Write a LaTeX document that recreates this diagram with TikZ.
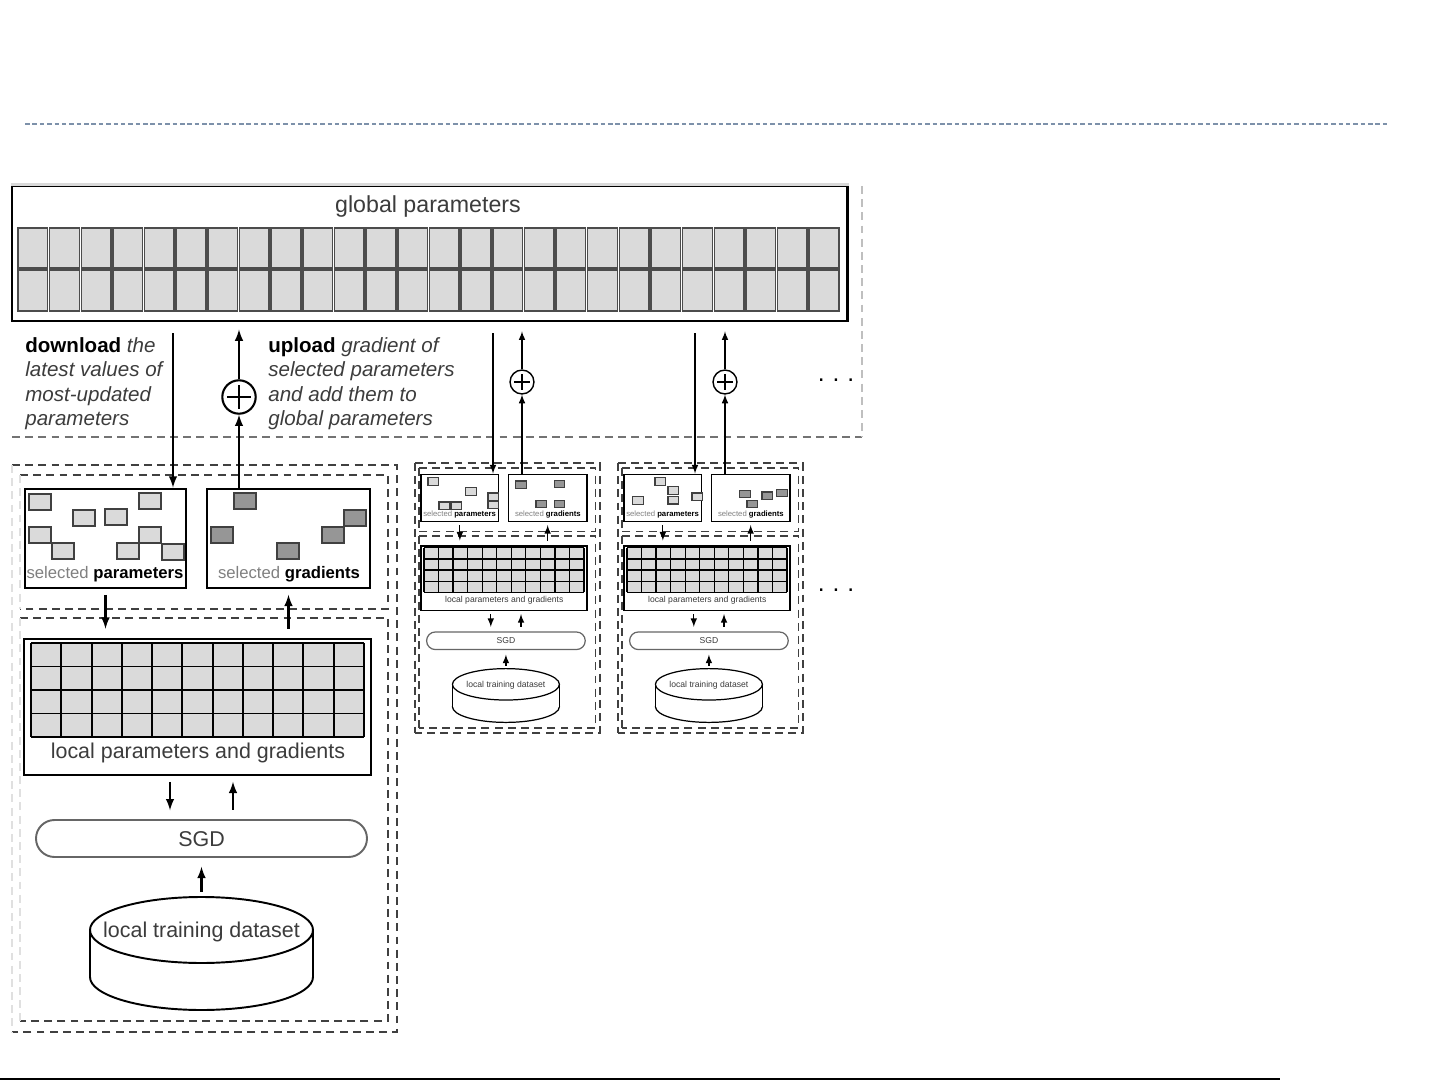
\documentclass[tikz,border=0pt]{standalone}
\usepackage{fontspec}
\setmainfont{Liberation Sans}
\usetikzlibrary{fit,shapes.misc}

\definecolor{cellgray}{RGB}{218,218,218}
\definecolor{gradgray}{RGB}{150,150,150}
\definecolor{txtgray}{RGB}{60,60,60}
\definecolor{slideblue}{RGB}{125,145,170}

\tikzset{
  bbox/.style={draw=black, fill=white, inner sep=0pt},
  dbox/.style={line width=1pt, dash pattern=on 4.5pt off 3pt},
  gcell/.style={draw=black!70, fill=cellgray, line width=0.9pt},
  pcell/.style={draw=black!75, fill=cellgray},
  gradcell/.style={draw=black!75, fill=gradgray},
  plusc/.style={circle, draw, fill=white, inner sep=0pt},
}

% one worker: #1 name, #2 scope options, #3 label size, #4 small label size,
% #5 selected parameter cells, #6 selected gradient cells
\newcommand{\worker}[6]{%
  \begin{scope}[#2]
    \draw[dbox, draw=black!75] (0,0) -- (385,0) -- (385,567) -- (0,567);
    \draw[dbox, draw=black!75] (8,10) -- (376,10) -- (376,144) -- (8,144);
    \draw[dbox, draw=black!75] (8,153) -- (376,153) -- (376,556) -- (8,556);
    \draw[dbox, draw=black!75, wkleft] (0,0) -- (0,567) (8,10) -- (8,144) (8,153) -- (8,556);
    % selected parameters and gradients
    \node[bbox, wkbox, fit={(13,24) (174,123)}] (sp#1) {};
    \node[bbox, wkbox, fit={(195,24) (358,123)}] (sg#1) {};
    \foreach \x/\y in {#5} \draw[pcell, wkcell] (\x,\y) rectangle ++(22,16);
    \foreach \x/\y in {#6} \draw[gradcell, wkcell] (\x,\y) rectangle ++(22,16);
    \node[font=\fontsize{#4}{#4}\selectfont, text=black!50] (spl#1) at (93,109) {selected \textbf{\textcolor{black}{parameters}}};
    \node[font=\fontsize{#4}{#4}\selectfont, text=black!50] (sgl#1) at (277,109) {selected \textbf{\textcolor{black}{gradients}}};
    % local parameters and gradients
    \node[bbox, wkbox, fit={(12,174) (359,310)}] (lp#1) {};
    \fill[cellgray] (19,178) rectangle (352,272);
    \foreach \i in {0,...,11} \draw[wkgrid] ({19+\i*30.27},178) -- ({19+\i*30.27},272);
    \foreach \j in {0,...,4} \draw[wkgrid] (19,{178+\j*23.5}) -- (352,{178+\j*23.5});
    \node[font=\fontsize{#3}{#3}\selectfont, text=txtgray] (lpl#1) at (186,288) {local parameters and gradients};
    % SGD and dataset
    \node[rounded rectangle, draw=black!60, fill=white, inner sep=0pt, wkthin, fit={(42.5,355) (336.5,392)}] (sgd#1) {};
    \node[font=\fontsize{#3}{#3}\selectfont, text=txtgray] (sgdl#1) at (189.5,374) {SGD};
    \draw[wkthin, fill=white] (189.5,512) ellipse (111.5 and 33);
    \fill[white] (78,465) rectangle (301,512);
    \draw[wkthin] (78,465) -- (78,512) (301,465) -- (301,512);
    \draw[wkthin, fill=white] (189.5,465) ellipse (111.5 and 33);
    \coordinate (dst#1) at (189.5,432);
    \node[font=\fontsize{#3}{#3}\selectfont, text=txtgray] (ds#1) at (189.5,467) {local training dataset};
    % connectors
    \coordinate (ld#1) at (158,0);
    \coordinate (lu#1) at (221,0);
    \draw[-latex, wkarr, wkgap] (sp#1.south) -- (sp#1.south |- lp#1.north);
    \draw[latex-, wkarr, wkgap] (sg#1.south) -- (sg#1.south |- lp#1.north);
    \draw[-latex, wkarr, wkgap] (lp#1.south -| ld#1) -- (sgd#1.north -| ld#1);
    \draw[latex-, wkarr, wkgap] (lp#1.south -| lu#1) -- (sgd#1.north -| lu#1);
    \draw[-latex, wkarr, wkgap] (dst#1) -- (sgd#1.south);
  \end{scope}}

\begin{document}
\begin{tikzpicture}[x=0.02cm, y=-0.02cm]
\useasboundingbox (0,0) rectangle (1441,1081);
% slide rules
\draw[slideblue, line width=0.6pt, dash pattern=on 2.6pt off 1.6pt] (25,124) -- (1387,124);
\draw[line width=1.2pt] (0,1079) -- (1280,1079);

% global parameters
\node[bbox, line width=1.7pt, fit={(12,186) (847,321)}] (gp) {};
\draw[black!15, line width=1.8pt] (gp.north west) -- (gp.north east);
\node[font=\fontsize{13.2}{13.2}\selectfont, text=txtgray] (gpl) at (428,207) {global parameters};
\foreach \i in {0,...,25} {
  \draw[gcell] ({18+\i*31.65},228) rectangle ({16+(\i+1)*31.65},268);
  \draw[gcell] ({18+\i*31.65},270) rectangle ({16+(\i+1)*31.65},311);
}
\draw[dbox, draw=black!55] (12,437) -- (862,437);
\draw[dbox, draw=black!25] (862,186) -- (862,437);

\node[anchor=north west, inner sep=0pt, align=left, text=txtgray,
  font=\fontsize{11.7}{13.9}\selectfont\itshape] (dltxt) at (25,337)
  {{\upshape\bfseries\textcolor{black}{download}} the\\ latest values of\\ most-updated\\ parameters};
\node[anchor=north west, inner sep=0pt, align=left, text=txtgray,
  font=\fontsize{11.7}{13.9}\selectfont\itshape] (ultxt) at (268,337)
  {{\upshape\bfseries\textcolor{black}{upload}} gradient of\\ selected parameters\\ and add them to\\ global parameters};

% workers
\worker{1}{shift={(12,465)}, wkbox/.style={line width=1.7pt}, wkthin/.style={line width=1.1pt},
  wkcell/.style={line width=1pt}, wkgrid/.style={line width=1.1pt}, wkarr/.style={line width=1.2pt},
  wkgap/.style={shorten <=3pt, shorten >=5pt}, wkleft/.style={draw=black!12}}{12.2}{9.5}
  {17/29, 127/28, 61/45, 93/44, 17/62, 127/62, 40/78, 105/78, 150/79}
  {222/28, 332/45, 199/62, 310/62, 265/78}
\worker{2}{shift={(415,463)}, x=0.0096cm, y=-0.00952cm, wkbox/.style={line width=1pt}, wkthin/.style={line width=0.7pt},
  wkcell/.style={line width=0.7pt}, wkgrid/.style={line width=0.8pt}, wkarr/.style={line width=0.7pt},
  wkgap/.style={shorten <=1.5pt, shorten >=2.5pt}, wkleft/.style={}}{4.9}{4.4}
  {27/31, 106/52, 50/82, 75/82, 152/63, 152/80}
  {210/38, 290/36, 252/78, 290/78}
\worker{3}{shift={(618,463)}, x=0.0096cm, y=-0.00952cm, wkbox/.style={line width=1pt}, wkthin/.style={line width=0.7pt},
  wkcell/.style={line width=0.7pt}, wkgrid/.style={line width=0.8pt}, wkarr/.style={line width=0.7pt},
  wkgap/.style={shorten <=1.5pt, shorten >=2.5pt}, wkleft/.style={}}{4.9}{4.4}
  {77/31, 104/50, 104/70, 31/71, 154/63}
  {254/57, 269/78, 300/61, 331/55}

% download / upload
\node[plusc, minimum size=19pt, line width=1.2pt] (pl1) at (239,397) {};
\node[plusc, minimum size=13.6pt, line width=0.8pt] (pl2) at (522,382) {};
\node[plusc, minimum size=13.6pt, line width=0.8pt] (pl3) at (725,382) {};
\draw[line width=1.2pt] ([yshift=-3.5pt]pl1.north) -- ([yshift=3.5pt]pl1.south) ([xshift=3.5pt]pl1.west) -- ([xshift=-3.5pt]pl1.east);
\foreach \p in {pl2,pl3}
  \draw[line width=0.8pt] ([yshift=-2.8pt]\p.north) -- ([yshift=2.8pt]\p.south) ([xshift=2.8pt]\p.west) -- ([xshift=-2.8pt]\p.east);

\coordinate (dl1) at (173,0);
\coordinate (dl2) at (493,0);
\coordinate (dl3) at (695,0);
\draw[-latex, line width=1.2pt, shorten <=6pt] (gp.south -| dl1) -- (sp1.north -| dl1);
\draw[-latex, line width=1.2pt] (sg1.north -| pl1) -- (pl1.south);
\draw[-latex, line width=1.2pt, shorten >=4pt] (pl1.north) -- (gp.south -| pl1);
\foreach \w in {2,3} {
  \draw[-latex, line width=0.7pt, shorten <=6pt] (gp.south -| dl\w) -- (sp\w.north -| dl\w);
  \draw[-latex, line width=0.7pt] (sg\w.north -| pl\w) -- (pl\w.south);
  \draw[-latex, line width=0.7pt, shorten >=5pt] (pl\w.north) -- (gp.south -| pl\w);
}

\node[anchor=base, font=\fontsize{14}{14}\selectfont] (more1) at (836,381) {.\hspace{4.5pt}.\hspace{4.5pt}.};
\node[anchor=base, font=\fontsize{14}{14}\selectfont] (more2) at (836,591) {.\hspace{4.5pt}.\hspace{4.5pt}.};
\end{tikzpicture}
\end{document}
